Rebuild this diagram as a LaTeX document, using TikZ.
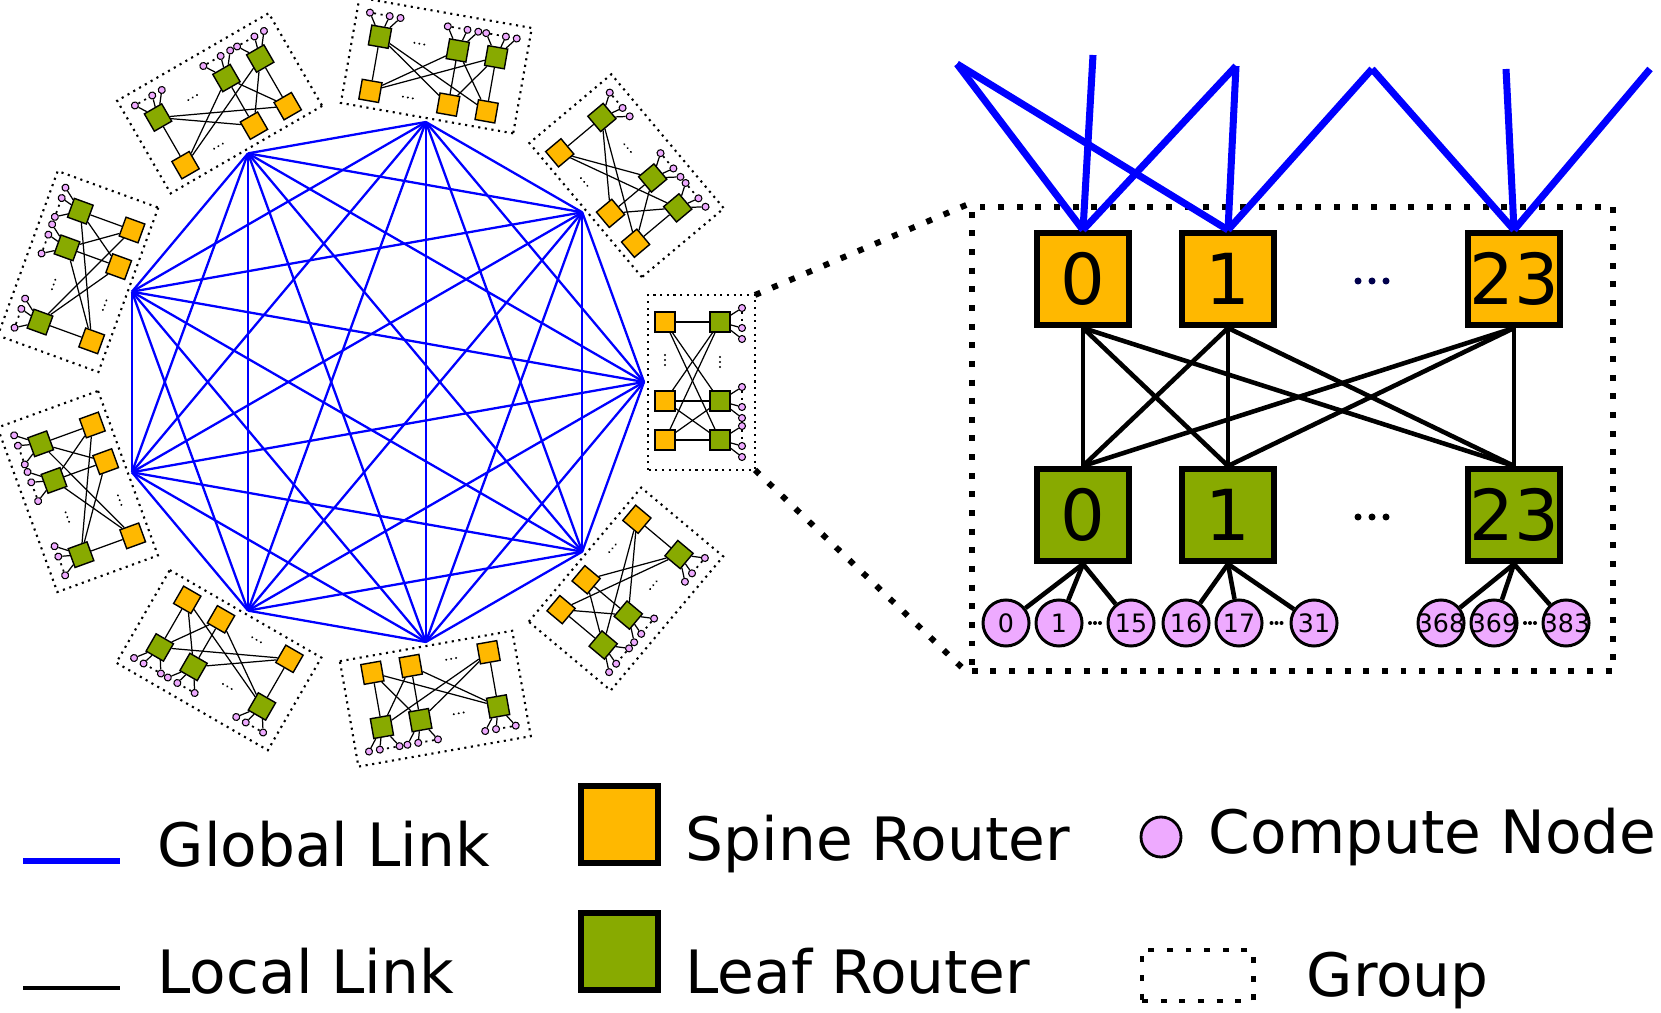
\documentclass[tikz,border=0pt]{standalone}
\usepackage{fontspec}
\setmainfont{DejaVu Sans}
\definecolor{spineorange}{RGB}{255,184,0}
\definecolor{leafgreen}{RGB}{136,170,0}
\definecolor{nodepink}{RGB}{238,170,255}

\begin{document}
\begin{tikzpicture}[x=0.01cm, y=0.01cm,
    spine/.style={draw, line width=1.7pt, fill=spineorange, minimum size=0.92cm, inner sep=0pt, font=\fontsize{20}{20}\selectfont},
    leaf/.style={spine, fill=leafgreen},
    comp/.style={draw, circle, line width=0.85pt, fill=nodepink, minimum size=0.46cm, inner sep=0pt, font=\fontsize{7.2}{7.2}\selectfont},
    sspine/.style={draw, line width=0.4pt, fill=spineorange, minimum size=0.2cm, inner sep=0pt},
    sleaf/.style={sspine, fill=leafgreen},
    scomp/.style={draw, circle, line width=0.3pt, fill=nodepink, minimum size=0.07cm, inner sep=0pt},
    slink/.style={line width=0.35pt},
    blink/.style={line width=1.3pt},
    glink/.style={blue, line width=0.65pt},
    bglink/.style={blue, line width=2pt},
    bigdots/.style={line width=1.7pt, dash pattern=on 1.7pt off 3.6pt},
    smalldots/.style={line width=0.6pt, dash pattern=on 0.6pt off 1.3pt},
    legend/.style={anchor=base west, inner sep=0pt, font=\fontsize{17}{17}\selectfont}]

\useasboundingbox (0,0) rectangle (1661,1012);

\foreach \gi in {0,...,8}{
  \begin{scope}[shift={(380,630)}, rotate=40*\gi, transform shape]
    \coordinate (v\gi) at (264,0);
    \coordinate (g\gi-tr) at (375,87);
    \coordinate (g\gi-br) at (375,-88);
    \draw[smalldots] (268,-88) rectangle (375,87);
    \foreach \i/\t in {1/60,2/-19,3/-58}{
      \node[sspine] (g\gi-s\i) at (285,\t) {};
      \node[sleaf] (g\gi-l\i) at (340,\t) {};
      \foreach \c/\u in {1/14,2/-6,3/-17}{
        \node[scomp] (g\gi-c\i\c) at ({362},{\t+(\u)}) {};
        \draw[slink] (g\gi-l\i) -- (g\gi-c\i\c);
      }
      \draw[smalldots, line width=0.5pt] (g\gi-c\i1) -- (g\gi-c\i2);
    }
    \foreach \i in {1,2,3}
      \foreach \j in {1,2,3}
        \draw[slink] (g\gi-s\i) -- (g\gi-l\j);
    \foreach \d in {-5,0,5}{
      \fill (285,22+\d) circle (1.1);
      \fill (340,20+\d) circle (1.1);
    }
  \end{scope}
}

\foreach \a in {0,...,7}{
  \pgfmathtruncatemacro{\nb}{\a+1}
  \foreach \b in {\nb,...,8}
    \draw[glink] (v\a) -- (v\b);
}

\node[draw, bigdots, minimum width=6.41cm, minimum height=4.64cm, inner sep=0pt] (grp) at (1292.5,573) {};
\draw[bigdots] (g0-tr) -- (grp.north west);
\draw[bigdots] (g0-br) -- (grp.south west);

\node[spine] (s0) at (1083,733) {0};
\node[spine] (s1) at (1228,733) {1};
\node[spine] (s23) at (1514,733) {23};
\node[leaf] (l0) at (1083,497) {0};
\node[leaf] (l1) at (1228,497) {1};
\node[leaf] (l23) at (1514,497) {23};
\foreach \d in {-14,0,14}{
  \fill[blue!30!black] (1372+\d,731) circle (3.5);
  \fill (1372+\d,495) circle (3.5);
}

\foreach \a in {s0,s1,s23}
  \foreach \b in {l0,l1,l23}
    \draw[blink] (\a.south) -- (\b.north);

\foreach \n/\x in {0/1006,1/1059,15/1131,16/1186,17/1239,31/1314,368/1441,369/1494,383/1566}
  \node[comp] (c\n) at (\x,389) {\makebox[0pt]{\n}};
\foreach \l/\a/\b/\c in {l0/0/1/15,l1/16/17/31,l23/368/369/383}
  \foreach \n in {\a,\b,\c}
    \draw[blink] (\l.south) -- (c\n);
\foreach \a/\b in {1/15,17/31,369/383}{
  \path (c\a) -- (c\b) coordinate[midway] (dots\a);
  \foreach \d in {-5,0,5}
    \fill ([xshift=\d*0.01cm]dots\a) circle (2);
}

\coordinate (t1) at (957,948);
\coordinate (t2) at (1093,957);
\coordinate (t3) at (1236,946);
\coordinate (t4) at (1372,943);
\coordinate (t5) at (1506,943);
\coordinate (t6) at (1650,943);
\foreach \a/\b in {t1/s0,t1/s1,t2/s0,t3/s0,t3/s1,t4/s1,t4/s23,t5/s23,t6/s23}
  \draw[bglink] (\a) -- (\b.north);

\coordinate (kg1) at (23,151); \coordinate (kg2) at (120,151);
\coordinate (kl1) at (23,24); \coordinate (kl2) at (120,24);
\draw[blue, line width=1.5pt] (kg1) -- (kg2);
\draw[line width=1.2pt] (kl1) -- (kl2);
\node[legend] (tglobal) at (157,146) {Global Link};
\node[legend] (tlocal) at (157,19) {Local Link};
\node[spine, minimum size=0.77cm, line width=1.5pt] (kspine) at (619.5,187.5) {};
\node[leaf, minimum size=0.77cm, line width=1.5pt] (kleaf) at (619.5,60.5) {};
\node[legend] (tspine) at (685,152) {Spine Router};
\node[legend] (tleaf) at (685,19) {Leaf Router};
\node[comp, minimum size=0.4cm, line width=0.8pt] (kcomp) at (1161,175) {};
\node[legend] (tcomp) at (1208,159) {Compute Node};
\node[draw, bigdots, line width=1.4pt, minimum width=1.11cm, minimum height=0.51cm, inner sep=0pt] (kgroup) at (1197.5,36.5) {};
\node[legend] (tgroup) at (1306,16) {Group};
\end{tikzpicture}
\end{document}
